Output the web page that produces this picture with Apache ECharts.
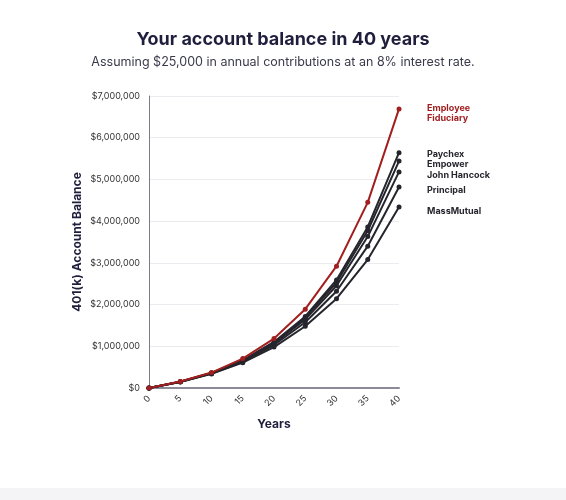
<!DOCTYPE html>
<html>
<head>
<meta charset="utf-8">
<script src="https://cdn.jsdelivr.net/npm/echarts@6/dist/echarts.min.js"></script>
<style>
html,body{margin:0;padding:0;background:#fff;}
#c{width:566px;height:488px;}
#band{position:absolute;left:0;top:488px;width:566px;height:12px;background:#f4f4f6;}
</style>
</head>
<body>
<div id="c"></div>
<div id="band"></div>
<script>
const years = [0, 5, 10, 15, 20, 25, 30, 35, 40];
const employeeFiduciary = [0, 155000, 370000, 705000, 1185000, 1890000, 2920000, 4450000, 6690000];
const paychex = [0, 151000, 362000, 665000, 1105000, 1715000, 2590000, 3860000, 5640000];
const empower = [0, 150000, 358000, 655000, 1085000, 1685000, 2530000, 3770000, 5440000];
const johnHancock = [0, 149000, 354000, 645000, 1065000, 1645000, 2450000, 3630000, 5180000];
const principal = [0, 147000, 348000, 630000, 1030000, 1575000, 2320000, 3400000, 4820000];
const massMutual = [0, 144000, 338000, 608000, 980000, 1480000, 2140000, 3080000, 4340000];
const yTicks = [0, 1000000, 2000000, 3000000, 4000000, 5000000, 6000000, 7000000];

const RED = '#a11f1f';
const DARK = '#25252d';
const NAVY = '#1f1f3d';

function pairs(arr){ return years.map((y,i)=>[y, arr[i]]); }
function mk(name, arr, color, label, offY){
  return {
    name: name, type: 'line', data: pairs(arr),
    symbol: 'circle', symbolSize: 5,
    lineStyle: {width: 2, color: color},
    itemStyle: {color: color},
    z: color === RED ? 5 : 3,
    endLabel: {
      show: true, formatter: label, distance: 28,
      offset: [0, offY],
      color: color === RED ? RED : DARK,
      fontFamily: 'Inter', fontWeight: 'bold', fontSize: 9, lineHeight: 10, align: 'left'
    },
    emphasis: {disabled: true}
  };
}

const chart = echarts.init(document.getElementById('c'));
chart.setOption({
  animation: false,
  title: {
    text: 'Your account balance in 40 years',
    subtext: 'Assuming $25,000 in annual contributions at an 8% interest rate.',
    left: 'center', top: 26, itemGap: 7,
    textStyle: {fontFamily: 'Inter', fontWeight: 'bold', fontSize: 18, color: NAVY},
    subtextStyle: {fontFamily: 'Inter', fontSize: 12.5, color: '#3a3a4a'}
  },
  grid: {left: 149, right: 167, top: 96, bottom: 100, containLabel: false},
  xAxis: {
    type: 'value', min: 0, max: 40, interval: 5,
    name: 'Years', nameLocation: 'middle', nameGap: 30,
    nameTextStyle: {fontFamily: 'Inter', fontWeight: 'bold', fontSize: 12, color: NAVY},
    axisLine: {show: true, lineStyle: {color: '#8c8a98', width: 2}},
    axisTick: {show: false},
    splitLine: {show: false},
    axisLabel: {rotate: 45, fontFamily: 'Inter', fontSize: 9, color: '#333', margin: 9,
      formatter: v => years.includes(v) ? String(v) : ''}
  },
  yAxis: {
    type: 'value', min: 0, max: yTicks[yTicks.length-1], interval: 1000000,
    name: '401(k) Account Balance', nameLocation: 'middle', nameGap: 66, nameRotate: 90,
    nameTextStyle: {fontFamily: 'Inter', fontWeight: 'bold', fontSize: 12, color: NAVY},
    axisLine: {show: true, lineStyle: {color: '#7d7b8a', width: 1}},
    axisTick: {show: false},
    splitLine: {show: true, lineStyle: {color: '#ececf0', width: 1}},
    axisLabel: {fontFamily: 'Inter', fontSize: 9, color: '#333', margin: 9,
      formatter: v => '$' + v.toLocaleString('en-US')}
  },
  series: [
    mk('MassMutual', massMutual, DARK, 'MassMutual', 4),
    mk('Principal', principal, DARK, 'Principal', 3),
    mk('John Hancock', johnHancock, DARK, 'John Hancock', 3),
    mk('Empower', empower, DARK, 'Empower', 3),
    mk('Paychex', paychex, DARK, 'Paychex', 2),
    mk('Employee Fiduciary', employeeFiduciary, RED, 'Employee\nFiduciary', 4)
  ]
});
</script>
</body>
</html>
